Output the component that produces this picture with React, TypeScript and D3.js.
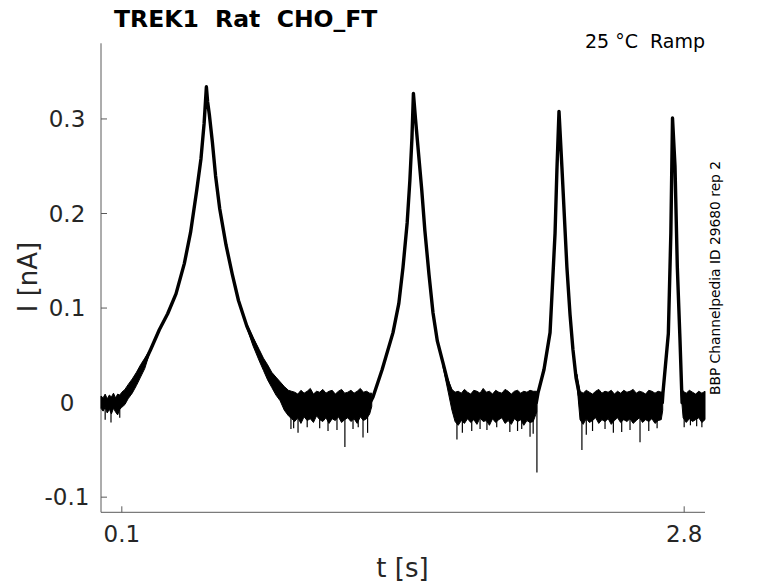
import React from "react";
import * as d3 from "d3";

// ---- data ----
const title = "TREK1  Rat  CHO_FT";
const condition = "25 °C  Ramp";
const sideNote = "BBP Channelpedia ID 29680 rep 2";
const xLabel = "t [s]";
const yLabel = "I [nA]";

const xDomain = [0, 2.9];
const yDomain = [-0.116, 0.38];
const xTicks = [0.1, 2.8];
const xTickLabels = ["0.1", "2.8"];
const yTicks = [-0.1, 0, 0.1, 0.2, 0.3];
const yTickLabels = ["-0.1", "0", "0.1", "0.2", "0.3"];

// centre line of the overlapping sweeps
const traceT = [
  0.0, 0.1, 0.13, 0.16, 0.2, 0.24, 0.28, 0.32, 0.36, 0.4, 0.43, 0.46, 0.48, 0.495, 0.506, 0.512,
  0.52, 0.535, 0.55, 0.57, 0.6, 0.63, 0.66, 0.7, 0.74, 0.78, 0.82, 0.86, 0.9, 0.93,
  1.29, 1.306, 1.35, 1.402, 1.43, 1.45, 1.47, 1.483, 1.493, 1.5, 1.51, 1.522, 1.54, 1.555,
  1.575, 1.594, 1.615, 1.642, 1.665, 1.69, 1.7,
  2.09, 2.098, 2.127, 2.156, 2.165, 2.18, 2.189, 2.199, 2.213, 2.237, 2.252, 2.266, 2.281, 2.299, 2.3,
  2.695, 2.698, 2.724, 2.736, 2.744, 2.756, 2.767, 2.78, 2.788, 2.79, 2.9,
];
const traceI = [
  0.0, 0.0, 0.01, 0.02, 0.038, 0.057, 0.077, 0.094, 0.115, 0.147, 0.18, 0.225, 0.258, 0.295, 0.334, 0.318,
  0.305, 0.275, 0.24, 0.205, 0.167, 0.136, 0.108, 0.081, 0.061, 0.042, 0.027, 0.015, 0.004, -0.001,
  -0.001, 0.006, 0.035, 0.074, 0.105, 0.143, 0.19, 0.235, 0.28, 0.327, 0.3, 0.27, 0.225, 0.182,
  0.135, 0.095, 0.065, 0.042, 0.022, 0.004, 0.0,
  0.0, 0.01, 0.035, 0.074, 0.113, 0.179, 0.246, 0.308, 0.249, 0.143, 0.093, 0.056, 0.026, 0.006, 0.0,
  0.0, 0.01, 0.073, 0.179, 0.301, 0.25, 0.144, 0.066, 0.013, 0.0, 0.0,
];

// noise band (upper / lower envelope); null breaks the band
const noiseT = [
  0.0, 0.01, 0.02, 0.03, 0.04, 0.05, 0.06, 0.07, 0.08, 0.09, 0.1, 0.115, 0.13, 0.15, 0.17, 0.19, 0.21, 0.23, null,
  0.7, 0.73, 0.76, 0.78, 0.8, 0.82, 0.84, 0.86, 0.88, 0.9, 0.915,
  0.93, 0.945, 0.96, 0.975, 0.99, 1.005, 1.02, 1.035, 1.05, 1.065, 1.08, 1.095, 1.11, 1.125, 1.14, 1.155,
  1.17, 1.185, 1.2, 1.215, 1.23, 1.245, 1.26, 1.275, 1.29, 1.3, null,
  1.64, 1.655, 1.67, 1.685, 1.7,
  1.715, 1.73, 1.745, 1.76, 1.775, 1.79, 1.805, 1.82, 1.835, 1.85, 1.865, 1.88, 1.895, 1.91, 1.925, 1.94,
  1.955, 1.97, 1.985, 2.0, 2.015, 2.03, 2.045, 2.06, 2.075, 2.092, null,
  2.285, 2.3, 2.315, 2.33, 2.345, 2.36, 2.375, 2.39, 2.405, 2.42, 2.435, 2.45, 2.465, 2.48, 2.495, 2.51,
  2.525, 2.54, 2.555, 2.57, 2.585, 2.6, 2.615, 2.63, 2.645, 2.66, 2.675, 2.69, 2.697, null,
  2.785, 2.795, 2.81, 2.825, 2.84, 2.855, 2.87, 2.885, 2.9,
];
const noiseHi = [
  0.007, 0.005, 0.009, 0.004, 0.008, 0.006, 0.01, 0.005, 0.009, 0.008, 0.011, 0.014, 0.019, 0.025, 0.032, 0.04, 0.047, 0.054, null,
  0.083, 0.069, 0.056, 0.047, 0.04, 0.032, 0.027, 0.022, 0.017, 0.013, 0.012,
  0.011, 0.009, 0.013, 0.01, 0.012, 0.015, 0.009, 0.012, 0.011, 0.014, 0.01, 0.012, 0.013, 0.009, 0.012, 0.014,
  0.01, 0.011, 0.013, 0.01, 0.012, 0.015, 0.011, 0.012, 0.01, 0.01, null,
  0.044, 0.032, 0.022, 0.014, 0.011,
  0.012, 0.01, 0.014, 0.011, 0.009, 0.013, 0.012, 0.01, 0.015, 0.011, 0.012, 0.009, 0.013, 0.011, 0.01, 0.014,
  0.012, 0.009, 0.012, 0.013, 0.01, 0.012, 0.011, 0.013, 0.012, 0.012, null,
  0.03, 0.012, 0.01, 0.013, 0.011, 0.009, 0.012, 0.014, 0.01, 0.012, 0.011, 0.013, 0.009, 0.012, 0.01, 0.013,
  0.011, 0.012, 0.014, 0.01, 0.012, 0.011, 0.009, 0.013, 0.012, 0.01, 0.012, 0.011, 0.012, null,
  0.018, 0.012, 0.01, 0.013, 0.011, 0.009, 0.012, 0.01, 0.012,
];
const noiseLo = [
  -0.006, -0.009, -0.005, -0.011, -0.007, -0.012, -0.006, -0.01, -0.013, -0.007, -0.005, -0.002, 0.004, 0.01, 0.018, 0.027, 0.036, 0.05, null,
  0.079, 0.06, 0.044, 0.034, 0.024, 0.016, 0.008, 0.002, -0.008, -0.014, -0.017,
  -0.02, -0.016, -0.022, -0.015, -0.019, -0.017, -0.021, -0.014, -0.018, -0.02, -0.016, -0.022, -0.017, -0.019, -0.015, -0.021,
  -0.018, -0.016, -0.02, -0.017, -0.022, -0.015, -0.019, -0.017, -0.012, -0.004, null,
  0.04, 0.024, 0.008, -0.008, -0.02,
  -0.024, -0.019, -0.022, -0.017, -0.021, -0.018, -0.023, -0.016, -0.02, -0.019, -0.024, -0.017, -0.021, -0.018, -0.016, -0.022,
  -0.019, -0.023, -0.017, -0.02, -0.018, -0.024, -0.019, -0.021, -0.02, -0.01, null,
  0.02, -0.018, -0.023, -0.017, -0.021, -0.019, -0.016, -0.022, -0.018, -0.02, -0.017, -0.023, -0.019, -0.016, -0.021, -0.018,
  -0.02, -0.017, -0.022, -0.019, -0.016, -0.021, -0.018, -0.02, -0.017, -0.022, -0.019, -0.018, -0.008, null,
  0.01, -0.016, -0.021, -0.017, -0.02, -0.018, -0.016, -0.021, -0.018,
];

// isolated downward spikes
const spikeT = [
  0.02, 0.048, 0.09, 0.912, 0.925, 0.946, 0.99, 1.05, 1.09, 1.133, 1.171, 1.21, 1.235, 1.258, 1.28,
  1.709, 1.735, 1.78, 1.82, 1.853, 1.9, 1.963, 2.0, 2.02, 2.06, 2.075, 2.093,
  2.309, 2.33, 2.36, 2.42, 2.46, 2.5, 2.54, 2.588, 2.63, 2.67, 2.8, 2.83, 2.86, 2.885,
];
const spikeI = [
  -0.018, -0.021, -0.016, -0.028, -0.027, -0.032, -0.026, -0.027, -0.03, -0.029, -0.047, -0.028, -0.026, -0.037, -0.032,
  -0.039, -0.032, -0.03, -0.028, -0.029, -0.026, -0.031, -0.03, -0.028, -0.036, -0.033, -0.074,
  -0.05, -0.034, -0.03, -0.028, -0.032, -0.031, -0.029, -0.042, -0.03, -0.027, -0.026, -0.024, -0.025, -0.026,
];

const W = 778;
const H = 583;
const FONT = "'DejaVu Sans', sans-serif";

export default function App() {
  const x = d3.scaleLinear().domain(xDomain).range([101, 705]);
  const y = d3.scaleLinear().domain(yDomain).range([512.3, 43.3]);

  const trace = traceT.map((t, i) => [t, traceI[i]] as [number, number]);
  const tracePath = d3
    .line<[number, number]>()
    .x((d) => x(d[0]))
    .y((d) => y(d[1]))(trace) as string;

  const noise = noiseT.map((t, i) => ({ t, hi: noiseHi[i], lo: noiseLo[i] }));
  const noiseArea = d3
    .area<{ t: number | null; hi: number | null; lo: number | null }>()
    .defined((d) => d.t !== null)
    .x((d) => x(d.t as number))
    .y0((d) => y(d.lo as number))
    .y1((d) => y(d.hi as number))(noise) as string;

  const axisColor = "#5a5a5a";
  const textColor = "#262626";

  return (
    <svg
      width={W}
      height={H}
      style={{ position: "absolute", left: 0, top: 0, background: "#fff" }}
      fontFamily={FONT}
    >
      <rect width={W} height={H} fill="#fff" />
      {/* axes */}
      <line x1={101} x2={101} y1={43.3} y2={512.3} stroke={axisColor} strokeWidth={1} />
      <line x1={101} x2={705} y1={512.3} y2={512.3} stroke={axisColor} strokeWidth={1} />
      {yTicks.map((v, i) => (
        <g key={"yt" + i}>
          <line x1={101} x2={107} y1={y(v)} y2={y(v)} stroke={axisColor} />
          <text
            x={67}
            y={y(v)}
            textAnchor="middle"
            dominantBaseline="central"
            fontSize={23}
            fill={textColor}
          >
            {yTickLabels[i]}
          </text>
        </g>
      ))}
      {xTicks.map((v, i) => (
        <g key={"xt" + i}>
          <line x1={x(v)} x2={x(v)} y1={512.3} y2={506.3} stroke={axisColor} />
          <text x={x(v)} y={542} textAnchor="middle" fontSize={23} fill={textColor}>
            {xTickLabels[i]}
          </text>
        </g>
      ))}

      {/* data */}
      <path d={noiseArea} fill="#000" stroke="#000" strokeWidth={1} strokeLinejoin="round" />
      {spikeT.map((t, i) => (
        <line key={"sp" + i} x1={x(t)} x2={x(t)} y1={y(0)} y2={y(spikeI[i])} stroke="#000" strokeWidth={1.2} />
      ))}
      <path d={tracePath} fill="none" stroke="#000" strokeWidth={3.4} strokeLinejoin="round" />

      {/* labels */}
      <text x={114} y={27} fontSize={23.5} fontWeight="bold" fill="#000" style={{ whiteSpace: "pre" }}>
        {title}
      </text>
      <text x={705} y={48} textAnchor="end" fontSize={19} fill="#000" style={{ whiteSpace: "pre" }}>
        {condition}
      </text>
      <text
        transform="translate(720,278) rotate(-90)"
        textAnchor="middle"
        fontSize={13.8}
        fill="#000"
      >
        {sideNote}
      </text>
      <text x={402.5} y={577} textAnchor="middle" fontSize={26} fill={textColor}>
        {xLabel}
      </text>
      <text transform="translate(37,277) rotate(-90)" textAnchor="middle" fontSize={26} fill={textColor}>
        {yLabel}
      </text>
    </svg>
  );
}
